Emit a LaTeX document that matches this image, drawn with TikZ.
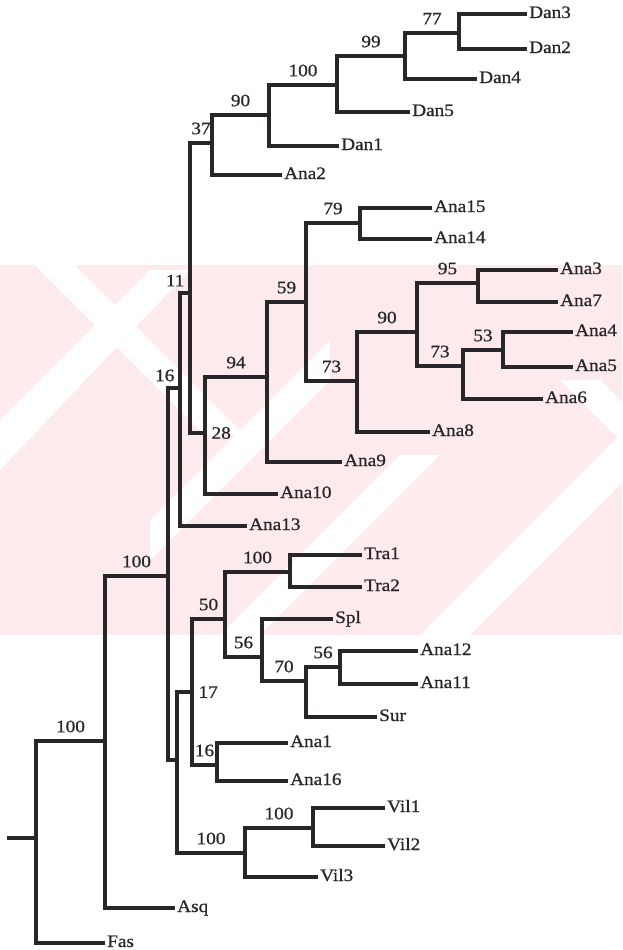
\documentclass[tikz,border=0pt]{standalone}
\usepackage{fontspec}
\setmainfont{Liberation Serif}[FakeStretch=1.1, FakeBold=0.8]
\usetikzlibrary{positioning}
\definecolor{TreeInk}{RGB}{40,38,40}
\definecolor{MarkPink}{RGB}{252,234,237}

\begin{document}
\begin{tikzpicture}[x=1pt, y=-1pt,
  every node/.style={font=\fontsize{17.5}{19}\selectfont, text=TreeInk},
  branch/.style={draw=TreeInk, line width=3.2pt},
  taxon/.style={anchor=west, inner sep=2pt, text height=8pt, text depth=0pt},
  boot/.style={pos=0.75, anchor=south, inner sep=1pt, yshift=6pt},
  bootleft/.style={pos=1, anchor=south east, inner sep=1pt, xshift=-3pt, yshift=4pt},
  bootright/.style={pos=1, anchor=west, inner sep=1pt, xshift=4pt}]
  \useasboundingbox (0,0) rectangle (622,950);

  % watermark
  \begin{scope}
    \clip (0,265) rectangle (622,635);
    \fill[MarkPink] (0,265) rectangle (622,635);
    \fill[white] (35,265) -- (75,265) -- (245,435) -- (205,435) -- cycle;
    \fill[white] (0,470) -- (0,420) -- (150,270) -- (190,270) -- cycle;
    \fill[white] (150,560) -- (150,520) -- (330,340) -- (330,380) -- cycle;
    \fill[white] (220,635) -- (260,635) -- (440,455) -- (400,455) -- cycle;
    \fill[white] (420,635) -- (470,635) -- (622,483) -- (622,433) -- cycle;
    \fill[white] (560,380) -- (600,380) -- (622,402) -- (622,442) -- cycle;
  \end{scope}

  % inner nodes
  \coordinate (root) at (36,838);
  \coordinate (stub) at (7,838);
  \coordinate (cA) at (105,741);
  \coordinate (cB) at (168,576);
  \coordinate (c16) at (180,388);
  \coordinate (c11) at (190,293);
  \coordinate (c37) at (212,143);
  \coordinate (c90) at (269,115);
  \coordinate (cDan) at (337,85);
  \coordinate (c99) at (405,56);
  \coordinate (c77) at (459,33);
  \coordinate (c28) at (205,433);
  \coordinate (c94) at (267,377);
  \coordinate (c59) at (306,302);
  \coordinate (c79) at (360,223);
  \coordinate (c73) at (357,381);
  \coordinate (c90b) at (417,332);
  \coordinate (c95) at (478,283);
  \coordinate (c73b) at (463,366);
  \coordinate (c53) at (503,350);
  \coordinate (cD) at (177,760);
  \coordinate (c17) at (192,692);
  \coordinate (c50) at (225,619);
  \coordinate (cTra) at (290,572);
  \coordinate (c56) at (262,657);
  \coordinate (c70) at (306,681);
  \coordinate (c56b) at (340,667);
  \coordinate (c16b) at (217,765);
  \coordinate (cVil) at (245,853);
  \coordinate (cVil12) at (313,828);

  % taxa
  \node[taxon] (Dan3) at (527,14) {Dan3};
  \node[taxon] (Dan2) at (527,49) {Dan2};
  \node[taxon] (Dan4) at (477,79) {Dan4};
  \node[taxon] (Dan5) at (410,112) {Dan5};
  \node[taxon] (Dan1) at (339,146) {Dan1};
  \node[taxon] (Ana2) at (282,175) {Ana2};
  \node[taxon] (Ana15) at (432,208) {Ana15};
  \node[taxon] (Ana14) at (432,239) {Ana14};
  \node[taxon] (Ana3) at (558,270) {Ana3};
  \node[taxon] (Ana7) at (558,302) {Ana7};
  \node[taxon] (Ana4) at (573,332) {Ana4};
  \node[taxon] (Ana5) at (573,367) {Ana5};
  \node[taxon] (Ana6) at (543,399) {Ana6};
  \node[taxon] (Ana8) at (430,432) {Ana8};
  \node[taxon] (Ana9) at (342,462) {Ana9};
  \node[taxon] (Ana10) at (278,494) {Ana10};
  \node[taxon] (Ana13) at (247,526) {Ana13};
  \node[taxon] (Tra1) at (362,555) {Tra1};
  \node[taxon] (Tra2) at (362,587) {Tra2};
  \node[taxon] (Spl) at (333,619) {Spl};
  \node[taxon] (Ana12) at (418,651) {Ana12};
  \node[taxon] (Ana11) at (418,684) {Ana11};
  \node[taxon] (Sur) at (377,717) {Sur};
  \node[taxon] (Ana1) at (288,743) {Ana1};
  \node[taxon] (Ana16) at (288,781) {Ana16};
  \node[taxon] (Vil1) at (385,808) {Vil1};
  \node[taxon] (Vil2) at (385,846) {Vil2};
  \node[taxon] (Vil3) at (318,877) {Vil3};
  \node[taxon] (Asq) at (175,908) {Asq};
  \node[taxon] (Fas) at (105,943) {Fas};

  % branches
  \draw[branch] (stub) -- (root);
  \draw[branch] (root) |- (cA) node[boot] {100};
  \draw[branch] (root) |- (Fas.west);
  \draw[branch] (cA) |- (cB) node[boot] {100};
  \draw[branch] (cA) |- (Asq.west);
  \draw[branch] (cB) |- (c16) node[bootleft] {16};
  \draw[branch] (cB) |- (cD);
  \draw[branch] (c16) |- (c11) node[bootleft] {11};
  \draw[branch] (c16) |- (Ana13.west);
  \draw[branch] (c11) |- (c37) node[boot] {37};
  \draw[branch] (c11) |- (c28) node[bootright] {28};
  \draw[branch] (c37) |- (c90) node[boot] {90};
  \draw[branch] (c37) |- (Ana2.west);
  \draw[branch] (c90) |- (cDan) node[boot] {100};
  \draw[branch] (c90) |- (Dan1.west);
  \draw[branch] (cDan) |- (c99) node[boot] {99};
  \draw[branch] (cDan) |- (Dan5.west);
  \draw[branch] (c99) |- (c77) node[boot] {77};
  \draw[branch] (c99) |- (Dan4.west);
  \draw[branch] (c77) |- (Dan3.west);
  \draw[branch] (c77) |- (Dan2.west);
  \draw[branch] (c28) |- (c94) node[boot] {94};
  \draw[branch] (c28) |- (Ana10.west);
  \draw[branch] (c94) |- (c59) node[boot] {59};
  \draw[branch] (c94) |- (Ana9.west);
  \draw[branch] (c59) |- (c79) node[boot] {79};
  \draw[branch] (c59) |- (c73) node[boot] {73};
  \draw[branch] (c79) |- (Ana15.west);
  \draw[branch] (c79) |- (Ana14.west);
  \draw[branch] (c73) |- (c90b) node[boot] {90};
  \draw[branch] (c73) |- (Ana8.west);
  \draw[branch] (c90b) |- (c95) node[boot] {95};
  \draw[branch] (c90b) |- (c73b) node[boot] {73};
  \draw[branch] (c95) |- (Ana3.west);
  \draw[branch] (c95) |- (Ana7.west);
  \draw[branch] (c73b) |- (c53) node[boot] {53};
  \draw[branch] (c73b) |- (Ana6.west);
  \draw[branch] (c53) |- (Ana4.west);
  \draw[branch] (c53) |- (Ana5.west);
  \draw[branch] (cD) |- (c17) node[bootright] {17};
  \draw[branch] (cD) |- (cVil) node[boot] {100};
  \draw[branch] (c17) |- (c50) node[boot] {50};
  \draw[branch] (c17) |- (c16b) node[boot] {16};
  \draw[branch] (c50) |- (cTra) node[boot] {100};
  \draw[branch] (c50) |- (c56) node[boot] {56};
  \draw[branch] (cTra) |- (Tra1.west);
  \draw[branch] (cTra) |- (Tra2.west);
  \draw[branch] (c56) |- (Spl.west);
  \draw[branch] (c56) |- (c70) node[boot] {70};
  \draw[branch] (c70) |- (c56b) node[boot] {56};
  \draw[branch] (c70) |- (Sur.west);
  \draw[branch] (c56b) |- (Ana12.west);
  \draw[branch] (c56b) |- (Ana11.west);
  \draw[branch] (c16b) |- (Ana1.west);
  \draw[branch] (c16b) |- (Ana16.west);
  \draw[branch] (cVil) |- (cVil12) node[boot] {100};
  \draw[branch] (cVil) |- (Vil3.west);
  \draw[branch] (cVil12) |- (Vil1.west);
  \draw[branch] (cVil12) |- (Vil2.west);
\end{tikzpicture}
\end{document}
